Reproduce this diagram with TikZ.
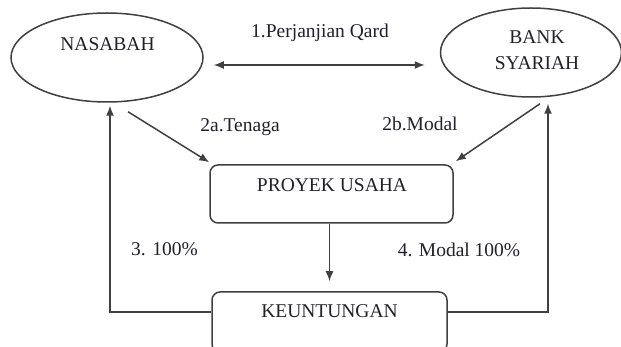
\documentclass[tikz,border=0pt]{standalone}
\usepackage{fontspec}
\setmainfont{Liberation Serif}
\usetikzlibrary{shapes.geometric,calc,arrows.meta}
\definecolor{linecol}{rgb}{0.25,0.25,0.25}
\definecolor{txtcol}{rgb}{0.13,0.13,0.17}
\tikzset{
  ell/.style={draw=linecol, line width=1.5pt, ellipse, inner sep=0pt},
  boxnode/.style={draw=linecol, line width=1.5pt, rectangle, rounded corners=8pt, inner sep=0pt},
  lbl/.style={text=txtcol, anchor=base, inner sep=0pt, font=\fontsize{19.5}{23}\selectfont},
  conn/.style={draw=linecol, line width=1.5pt, -{Latex[length=10pt,width=8pt]}},
  dconn/.style={draw=linecol, line width=1.5pt, {Latex[length=10pt,width=8pt]}-{Latex[length=10pt,width=8pt]}},
}
\begin{document}
\begin{tikzpicture}[x=1pt,y=-1pt]
\useasboundingbox (0,0) rectangle (621,347);
\fill[white] (0,0) rectangle (621,347);
% shapes
\node[ell, minimum width=192pt, minimum height=89pt] (nas) at (107,57.5) {};
\node[ell, minimum width=181pt, minimum height=89pt] (bank) at (531,52.5) {};
\node[boxnode, minimum width=243pt, minimum height=58pt] (proj) at (331.5,194) {};
\node[boxnode, minimum width=235pt, minimum height=60pt] (keu) at (329.5,322) {};
% texts
\node[lbl] (tnas) at (107.5,51) {NASABAH};
\node[lbl] (tbank1) at (537,44) {BANK};
\node[lbl] (tbank2) at (537,70) {SYARIAH};
\node[lbl] (tproj) at (332,192) {PROYEK USAHA};
\node[lbl] (tkeu) at (329.5,317) {KEUNTUNGAN};
\node[lbl] (l1) at (320,38) {1.Perjanjian Qard};
\node[lbl] (l2a) at (240,132) {2a.Tenaga};
\node[lbl] (l2b) at (420,131) {2b.Modal};
\node[lbl] (l3) at (164.5,256) {3. 100\%};
\node[lbl] (l4) at (459,257) {4. Modal 100\%};
% connectors
\coordinate (dL) at ($(nas.east)+(10,7.5)$);
\coordinate (dR) at ($(bank.west)+(-15,12.5)$);
\draw[dconn] (dL) -- (dR);
\coordinate (s2a) at ($(nas.south)+(21,9)$);
\draw[conn] (s2a) -- ($(proj.north west)+(0,-2)$);
\coordinate (s2b) at ($(bank.south)+(9,6)$);
\draw[conn] (s2b) -- ($(proj.north east)+(2,-3)$);
\draw[conn, shorten >=10pt] (proj.south -| keu.north) -- (keu.north);
\coordinate (kl) at ($(keu.north west)+(0,21)$);
\coordinate (kr) at ($(keu.north east)+(0,21)$);
\coordinate (nb) at ($(nas.south)+(3,0)$);
\coordinate (bb) at ($(bank.south)+(17,0)$);
\draw[conn, shorten >=3pt] (kl) -| (nb);
\draw[conn, shorten >=6pt] (kr) -| (bb);
\end{tikzpicture}
\end{document}
